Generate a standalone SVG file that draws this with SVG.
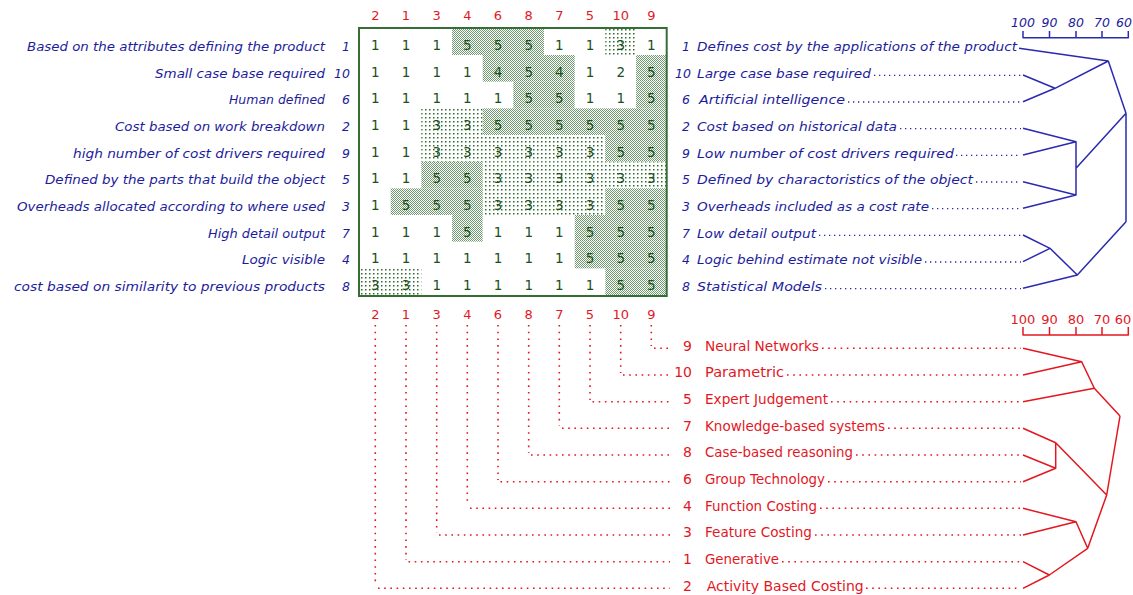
<svg xmlns="http://www.w3.org/2000/svg" width="1133" height="595" viewBox="0 0 1133 595">
<style>
.bl{font-family:"DejaVu Sans","Liberation Sans",sans-serif;font-size:12.5px;font-style:italic;fill:#1c1c9c}
.rd{font-family:"DejaVu Sans","Liberation Sans",sans-serif;font-size:14px;fill:#e3171f}
.hd{font-family:"DejaVu Sans","Liberation Sans",sans-serif;font-size:13px;fill:#e3171f;text-anchor:middle}
.gn{font-family:"DejaVu Sans","Liberation Sans",sans-serif;font-size:13.5px;fill:#1a501a;text-anchor:middle}
.bdot{fill:none;stroke:#2a2aa8;stroke-width:1.3;stroke-dasharray:1.3 3.7}
.rdoth{fill:none;stroke:#e3171f;stroke-width:1.6;stroke-dasharray:1.6 4.6}
.rdotv{fill:none;stroke:#e3171f;stroke-width:1.6;stroke-dasharray:1.6 5.1}
.bln{fill:none;stroke:#2a2ab0;stroke-width:1.5;stroke-linejoin:round}
.rln{fill:none;stroke:#e3171f;stroke-width:1.5;stroke-linejoin:round}
.dense{fill:url(#pd)}
.sparse{fill:url(#ps)}
</style>
<defs>
<pattern id="pd" width="2" height="2" patternUnits="userSpaceOnUse"><rect width="1" height="1" fill="#6f9a6f" shape-rendering="crispEdges"/><rect x="1" y="1" width="1" height="1" fill="#6f9a6f" shape-rendering="crispEdges"/></pattern>
<pattern id="ps" width="4" height="4" patternUnits="userSpaceOnUse"><rect x="1" y="1" width="1.5" height="1.5" fill="#2d6b2d"/></pattern>
</defs>
<rect width="1133" height="595" fill="#fff"/>

<g id="grid-shading">
<rect class="dense" x="452" y="28.3" width="92" height="26.67"/>
<rect class="sparse" x="605.3" y="28.3" width="30.67" height="26.67"/>
<rect class="dense" x="482.7" y="55" width="92" height="26.67"/>
<rect class="dense" x="636" y="55" width="30.67" height="26.67"/>
<rect class="dense" x="513.3" y="81.7" width="61.3" height="26.67"/>
<rect class="dense" x="636" y="81.7" width="30.67" height="26.67"/>
<rect class="sparse" x="421.3" y="108.3" width="61.3" height="26.67"/>
<rect class="dense" x="482.7" y="108.3" width="184" height="26.67"/>
<rect class="sparse" x="421.3" y="135" width="184" height="26.67"/>
<rect class="dense" x="605.3" y="135" width="61.3" height="26.67"/>
<rect class="dense" x="421.3" y="161.7" width="61.3" height="26.67"/>
<rect class="sparse" x="482.7" y="161.7" width="184" height="26.67"/>
<rect class="dense" x="390.7" y="188.3" width="92" height="26.67"/>
<rect class="sparse" x="482.7" y="188.3" width="122.7" height="26.67"/>
<rect class="dense" x="605.3" y="188.3" width="61.3" height="26.67"/>
<rect class="dense" x="452" y="215" width="30.67" height="26.67"/>
<rect class="dense" x="574.7" y="215" width="92" height="26.67"/>
<rect class="dense" x="574.7" y="241.7" width="92" height="26.67"/>
<rect class="sparse" x="360" y="268.3" width="61.3" height="26.67"/>
<rect class="dense" x="605.3" y="268.3" width="61.3" height="26.67"/>
</g>
<rect id="grid-box" x="359" y="28" width="307.7" height="268" fill="none" stroke="#356d35" stroke-width="2"/>

<g id="grid-values" class="gn">
<text y="50"><tspan x="375.3">1</tspan><tspan x="406">1</tspan><tspan x="436.7">1</tspan><tspan x="467.3">5</tspan><tspan x="498">5</tspan><tspan x="528.7">5</tspan><tspan x="559.3">1</tspan><tspan x="590">1</tspan><tspan x="620.7">3</tspan><tspan x="651.3">1</tspan></text>
<text y="76.7"><tspan x="375.3">1</tspan><tspan x="406">1</tspan><tspan x="436.7">1</tspan><tspan x="467.3">1</tspan><tspan x="498">4</tspan><tspan x="528.7">5</tspan><tspan x="559.3">4</tspan><tspan x="590">1</tspan><tspan x="620.7">2</tspan><tspan x="651.3">5</tspan></text>
<text y="103.3"><tspan x="375.3">1</tspan><tspan x="406">1</tspan><tspan x="436.7">1</tspan><tspan x="467.3">1</tspan><tspan x="498">1</tspan><tspan x="528.7">5</tspan><tspan x="559.3">5</tspan><tspan x="590">1</tspan><tspan x="620.7">1</tspan><tspan x="651.3">5</tspan></text>
<text y="130"><tspan x="375.3">1</tspan><tspan x="406">1</tspan><tspan x="436.7">3</tspan><tspan x="467.3">3</tspan><tspan x="498">5</tspan><tspan x="528.7">5</tspan><tspan x="559.3">5</tspan><tspan x="590">5</tspan><tspan x="620.7">5</tspan><tspan x="651.3">5</tspan></text>
<text y="156.7"><tspan x="375.3">1</tspan><tspan x="406">1</tspan><tspan x="436.7">3</tspan><tspan x="467.3">3</tspan><tspan x="498">3</tspan><tspan x="528.7">3</tspan><tspan x="559.3">3</tspan><tspan x="590">3</tspan><tspan x="620.7">5</tspan><tspan x="651.3">5</tspan></text>
<text y="183.3"><tspan x="375.3">1</tspan><tspan x="406">1</tspan><tspan x="436.7">5</tspan><tspan x="467.3">5</tspan><tspan x="498">3</tspan><tspan x="528.7">3</tspan><tspan x="559.3">3</tspan><tspan x="590">3</tspan><tspan x="620.7">3</tspan><tspan x="651.3">3</tspan></text>
<text y="210"><tspan x="375.3">1</tspan><tspan x="406">5</tspan><tspan x="436.7">5</tspan><tspan x="467.3">5</tspan><tspan x="498">3</tspan><tspan x="528.7">3</tspan><tspan x="559.3">3</tspan><tspan x="590">3</tspan><tspan x="620.7">5</tspan><tspan x="651.3">5</tspan></text>
<text y="236.7"><tspan x="375.3">1</tspan><tspan x="406">1</tspan><tspan x="436.7">1</tspan><tspan x="467.3">5</tspan><tspan x="498">1</tspan><tspan x="528.7">1</tspan><tspan x="559.3">1</tspan><tspan x="590">5</tspan><tspan x="620.7">5</tspan><tspan x="651.3">5</tspan></text>
<text y="263.3"><tspan x="375.3">1</tspan><tspan x="406">1</tspan><tspan x="436.7">1</tspan><tspan x="467.3">1</tspan><tspan x="498">1</tspan><tspan x="528.7">1</tspan><tspan x="559.3">1</tspan><tspan x="590">5</tspan><tspan x="620.7">5</tspan><tspan x="651.3">5</tspan></text>
<text y="290"><tspan x="375.3">3</tspan><tspan x="406">3</tspan><tspan x="436.7">1</tspan><tspan x="467.3">1</tspan><tspan x="498">1</tspan><tspan x="528.7">1</tspan><tspan x="559.3">1</tspan><tspan x="590">1</tspan><tspan x="620.7">5</tspan><tspan x="651.3">5</tspan></text>
</g>

<g id="column-headers" class="hd">
<text y="19.5"><tspan x="375.3">2</tspan><tspan x="406">1</tspan><tspan x="436.7">3</tspan><tspan x="467.3">4</tspan><tspan x="498">6</tspan><tspan x="528.7">8</tspan><tspan x="559.3">7</tspan><tspan x="590">5</tspan><tspan x="620.7">10</tspan><tspan x="651.3">9</tspan></text>
<text y="318.5"><tspan x="375.3">2</tspan><tspan x="406">1</tspan><tspan x="436.7">3</tspan><tspan x="467.3">4</tspan><tspan x="498">6</tspan><tspan x="528.7">8</tspan><tspan x="559.3">7</tspan><tspan x="590">5</tspan><tspan x="620.7">10</tspan><tspan x="651.3">9</tspan></text>
</g>

<g id="construct-1" class="bl"><text x="325" y="51" text-anchor="end" textLength="298" lengthAdjust="spacingAndGlyphs">Based on the attributes defining the product</text><text x="350" y="51" text-anchor="end">1</text><text x="690" y="51" text-anchor="end">1</text><text x="697" y="51" textLength="320" lengthAdjust="spacingAndGlyphs">Defines cost by the applications of the product</text></g>
<g id="construct-10" class="bl"><text x="325" y="77.7" text-anchor="end" textLength="170" lengthAdjust="spacingAndGlyphs">Small case base required</text><text x="350" y="77.7" text-anchor="end">10</text><text x="691" y="77.7" text-anchor="end">10</text><text x="697" y="77.7" textLength="174" lengthAdjust="spacingAndGlyphs">Large case base required</text></g>
<g id="construct-6" class="bl"><text x="325" y="104.3" text-anchor="end" textLength="96" lengthAdjust="spacingAndGlyphs">Human defined</text><text x="350" y="104.3" text-anchor="end">6</text><text x="690" y="104.3" text-anchor="end">6</text><text x="699" y="104.3" textLength="146" lengthAdjust="spacingAndGlyphs">Artificial intelligence</text></g>
<g id="construct-2" class="bl"><text x="325" y="131" text-anchor="end" textLength="210" lengthAdjust="spacingAndGlyphs">Cost based on work breakdown</text><text x="350" y="131" text-anchor="end">2</text><text x="690" y="131" text-anchor="end">2</text><text x="697" y="131" textLength="200" lengthAdjust="spacingAndGlyphs">Cost based on historical data</text></g>
<g id="construct-9" class="bl"><text x="325" y="157.7" text-anchor="end" textLength="252" lengthAdjust="spacingAndGlyphs">high number of cost drivers required</text><text x="350" y="157.7" text-anchor="end">9</text><text x="690" y="157.7" text-anchor="end">9</text><text x="697" y="157.7" textLength="257" lengthAdjust="spacingAndGlyphs">Low number of cost drivers required</text></g>
<g id="construct-5" class="bl"><text x="325" y="184.3" text-anchor="end" textLength="280" lengthAdjust="spacingAndGlyphs">Defined by  the parts that build the object</text><text x="350" y="184.3" text-anchor="end">5</text><text x="690" y="184.3" text-anchor="end">5</text><text x="697" y="184.3" textLength="276" lengthAdjust="spacingAndGlyphs">Defined by charactoristics of the object</text></g>
<g id="construct-3" class="bl"><text x="325" y="211" text-anchor="end" textLength="308" lengthAdjust="spacingAndGlyphs">Overheads allocated according to where used</text><text x="350" y="211" text-anchor="end">3</text><text x="690" y="211" text-anchor="end">3</text><text x="697" y="211" textLength="232" lengthAdjust="spacingAndGlyphs">Overheads included as a cost rate</text></g>
<g id="construct-7" class="bl"><text x="325" y="237.7" text-anchor="end" textLength="117" lengthAdjust="spacingAndGlyphs">High detail output</text><text x="350" y="237.7" text-anchor="end">7</text><text x="690" y="237.7" text-anchor="end">7</text><text x="697" y="237.7" textLength="119" lengthAdjust="spacingAndGlyphs">Low detail output</text></g>
<g id="construct-4" class="bl"><text x="325" y="264.3" text-anchor="end" textLength="83" lengthAdjust="spacingAndGlyphs">Logic visible</text><text x="350" y="264.3" text-anchor="end">4</text><text x="690" y="264.3" text-anchor="end">4</text><text x="697" y="264.3" textLength="225" lengthAdjust="spacingAndGlyphs">Logic behind estimate not visible</text></g>
<g id="construct-8" class="bl"><text x="325" y="291" text-anchor="end" textLength="311" lengthAdjust="spacingAndGlyphs">cost based on similarity  to previous products</text><text x="350" y="291" text-anchor="end">8</text><text x="690" y="291" text-anchor="end">8</text><text x="697" y="291" textLength="125" lengthAdjust="spacingAndGlyphs">Statistical Models</text></g>

<g id="element-9" class="rd"><text x="692" y="350.7" text-anchor="end">9</text><text x="705" y="350.7" textLength="114" lengthAdjust="spacingAndGlyphs">Neural Networks</text></g>
<g id="element-10" class="rd"><text x="692" y="377.3" text-anchor="end">10</text><text x="705" y="377.3" textLength="79" lengthAdjust="spacingAndGlyphs">Parametric</text></g>
<g id="element-5" class="rd"><text x="692" y="404" text-anchor="end">5</text><text x="705" y="404" textLength="123" lengthAdjust="spacingAndGlyphs">Expert Judgement</text></g>
<g id="element-7" class="rd"><text x="692" y="430.7" text-anchor="end">7</text><text x="705" y="430.7" textLength="180" lengthAdjust="spacingAndGlyphs">Knowledge-based systems</text></g>
<g id="element-8" class="rd"><text x="692" y="457.3" text-anchor="end">8</text><text x="705" y="457.3" textLength="148" lengthAdjust="spacingAndGlyphs">Case-based reasoning</text></g>
<g id="element-6" class="rd"><text x="692" y="484" text-anchor="end">6</text><text x="705" y="484" textLength="120" lengthAdjust="spacingAndGlyphs">Group Technology</text></g>
<g id="element-4" class="rd"><text x="692" y="510.7" text-anchor="end">4</text><text x="705" y="510.7" textLength="112" lengthAdjust="spacingAndGlyphs">Function Costing</text></g>
<g id="element-3" class="rd"><text x="692" y="537.3" text-anchor="end">3</text><text x="705" y="537.3" textLength="107" lengthAdjust="spacingAndGlyphs">Feature Costing</text></g>
<g id="element-1" class="rd"><text x="692" y="564" text-anchor="end">1</text><text x="705" y="564" textLength="74" lengthAdjust="spacingAndGlyphs">Generative</text></g>
<g id="element-2" class="rd"><text x="692" y="590.7" text-anchor="end">2</text><text x="706.7" y="590.7" textLength="157" lengthAdjust="spacingAndGlyphs">Activity Based Costing</text></g>

<g id="scales">
<text class="bl" y="26.5" text-anchor="middle" font-size="13"><tspan x="1023">100</tspan><tspan x="1049.5">90</tspan><tspan x="1076">80</tspan><tspan x="1102">70</tspan><tspan x="1124">60</tspan></text>
<path class="bln" d="M1023,31 V37.7 H1128.3 V31 M1049.5,31 V37.7 M1076,31 V37.7 M1102,31 V37.7"/>
<text class="hd" y="324" font-size="13.5"><tspan x="1023">100</tspan><tspan x="1049.5">90</tspan><tspan x="1076">80</tspan><tspan x="1102">70</tspan><tspan x="1123">60</tspan></text>
<path class="rln" d="M1023,327 V335 H1128.3 V327 M1049.5,327 V335 M1076,327 V335 M1102,327 V335"/>
</g>

<g id="connectors">
<path class="bdot" d="M874,75.3 H1021 M848,102 H1021 M900,128.6 H1021 M956,155.3 H1021 M976,182 H1021 M932,208.6 H1021 M819,235.3 H1021 M925,262 H1021 M825,288.6 H1021"/>
<path class="rdotv" d="M651.3,325 V346 M620.7,325 V373 M590,325 V400 M559.3,325 V426 M528.7,325 V453 M498,325 V480 M467.3,325 V506 M436.7,325 V533 M406,325 V560 M375.3,325 V586"/>
<path class="rdoth" d="M654,348.3 H670 M623,375 H672 M592.5,401.7 H670 M562,428.3 H670 M531,455 H670 M500.5,481.7 H670 M470,508.3 H670 M439,535 H670 M408.5,561.7 H670 M378,588.3 H670"/>
<path class="rdoth" d="M822,348.3 H1021 M787,375 H1021 M831,401.7 H1021 M888,428.3 H1021 M856,455 H1021 M828,481.7 H1021 M820,508.3 H1021 M815,535 H1021 M782,561.7 H1021 M866,588.3 H1021"/>
<path class="bln" d="M1019,48.3 L1108.3,61 M1023,75 L1055,88.3 L1023,101.7 M1055,88.3 L1108.3,61 L1126,113.3 M1023,128.3 L1076,141.7 L1023,155 M1023,181.7 L1076,195 L1023,208.3 M1076,141.7 V195 M1076,168.3 L1126,113.3 V221.7 M1023,235 L1050,248.3 L1023,261.7 M1050,248.3 L1077.3,275 M1023,288.3 L1077.3,275 L1126,221.7"/>
<path class="rln" d="M1023,348.3 L1081.7,361.7 L1023,375 M1081.7,361.7 L1094.3,388.3 L1120,416 M1023,401.7 L1094.3,388.3 M1023,428.3 L1055.7,442.7 V468.3 M1023,455 L1055.7,468.3 L1023,481.7 M1055.7,442.7 L1106.7,495 M1120,416 L1106.7,495 L1087.7,548.3 M1023,508.3 L1076,521.7 L1023,535 M1076,521.7 L1087.7,548.3 M1023,561.7 L1049.3,575 L1023,588.3 M1049.3,575 L1087.7,548.3"/>
</g>
</svg>
